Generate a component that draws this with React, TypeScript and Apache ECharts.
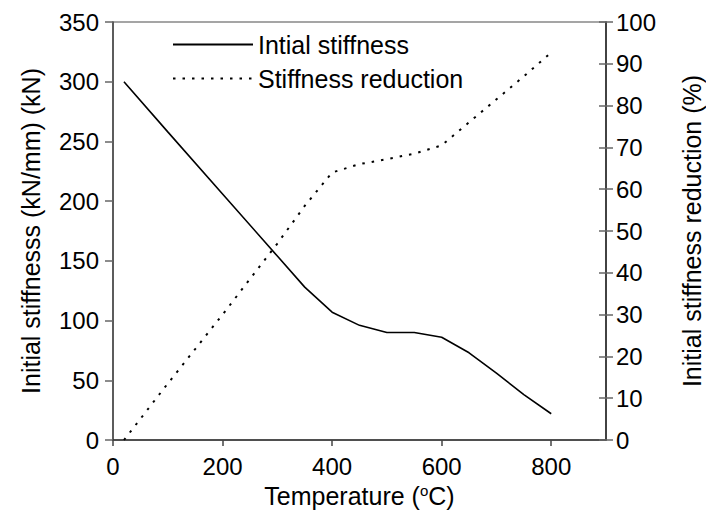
import React, { useEffect, useRef } from "react";
import * as echarts from "echarts";

const temperatures = [20, 100, 200, 300, 350, 400, 450, 500, 550, 600, 650, 700, 750, 800];
const initialStiffness = [300, 258, 206, 154, 128, 107, 96, 90, 90, 86, 73, 56, 38, 22];
const stiffnessReduction = [0, 13.5, 30, 47, 56, 64, 66, 67.2, 68.5, 70.5, 76, 81.5, 87, 92.7];
const xTicks = [0, 200, 400, 600, 800];

const FONT = "'Liberation Sans', Arial, sans-serif";

export default function App() {
  const ref = useRef<HTMLDivElement>(null);
  useEffect(() => {
    const chart = echarts.init(ref.current!, null, { renderer: "svg" });
    const solid = temperatures.map((t, i) => [t, initialStiffness[i]]);
    const dotted = temperatures.map((t, i) => [t, stiffnessReduction[i]]);
    chart.setOption({
      animation: false,
      textStyle: { fontFamily: FONT, color: "#000" },
      grid: {
        left: 113,
        right: 100,
        top: 22,
        bottom: 81,
        containLabel: false,
        outerBoundsMode: "none",
        show: true,
        borderColor: "#888",
        borderWidth: 1.5,
        backgroundColor: "transparent",
      },
      legend: {
        orient: "vertical",
        left: 167,
        top: 27,
        itemWidth: 80,
        itemHeight: 16,
        itemGap: 9,
        itemStyle: { opacity: 0 },
        textStyle: { fontSize: 25, fontFamily: FONT, color: "#000" },
        data: ["Intial stiffness", "Stiffness reduction"],
      },
      xAxis: {
        type: "value",
        min: 0,
        max: 900,
        interval: 200,
        name: "Temperature ({sup|o}C)",
        nameLocation: "middle",
        nameGap: 42,
        nameTextStyle: {
          fontSize: 25,
          fontFamily: FONT,
          color: "#000",
          rich: {
            sup: { fontSize: 15, verticalAlign: "top", padding: [0, 0, 12, 0], fontFamily: FONT, color: "#000" },
          },
        },
        axisLine: { show: true, lineStyle: { color: "#333", width: 1.5 } },
        axisTick: { show: true, length: 6, customValues: xTicks, lineStyle: { color: "#444", width: 1.5 } },
        axisLabel: { fontSize: 24, margin: 14, color: "#000", fontFamily: FONT, customValues: xTicks },
        splitLine: { show: false },
      },
      yAxis: [
        {
          type: "value",
          min: 0,
          max: 350,
          interval: 50,
          position: "left",
          name: "Initial stiffnesss (kN/mm) (kN)",
          nameLocation: "middle",
          nameRotate: 90,
          nameGap: 70,
          nameTextStyle: { fontSize: 25, fontFamily: FONT, color: "#000" },
          axisLine: { show: true, lineStyle: { color: "#444", width: 1.5 } },
          axisTick: { show: true, length: 8, lineStyle: { color: "#666", width: 1.5 } },
          axisLabel: { fontSize: 24, margin: 14, color: "#000", fontFamily: FONT },
          splitLine: { show: false },
        },
        {
          type: "value",
          min: 0,
          max: 100,
          interval: 10,
          position: "right",
          name: "Initial stiffness reduction (%)",
          nameLocation: "middle",
          nameRotate: 90,
          nameGap: 73,
          nameTextStyle: { fontSize: 25, fontFamily: FONT, color: "#000" },
          axisLine: { show: true, lineStyle: { color: "#222", width: 1.5 } },
          axisTick: { show: true, length: 7, lineStyle: { color: "#666", width: 1.5 } },
          axisLabel: { fontSize: 24, margin: 10, color: "#000", fontFamily: FONT },
          splitLine: { show: false },
        },
        {
          type: "value",
          min: 0,
          max: 100,
          interval: 10,
          position: "right",
          axisLine: { show: false },
          axisTick: { show: true, inside: true, length: 7, lineStyle: { color: "#666", width: 1.5 } },
          axisLabel: { show: false },
          splitLine: { show: false },
        },
      ],
      series: [
        {
          name: "Intial stiffness",
          type: "line",
          yAxisIndex: 0,
          data: solid,
          symbol: "none",
          showSymbol: false,
          lineStyle: { color: "#000", width: 1.6, type: "solid" },
          itemStyle: { color: "#000" },
        },
        {
          name: "Stiffness reduction",
          type: "line",
          yAxisIndex: 1,
          data: dotted,
          symbol: "none",
          showSymbol: false,
          lineStyle: { color: "#000", width: 2, type: [2.5, 7] },
          itemStyle: { color: "#000" },
        },
      ],
    });
    return () => chart.dispose();
  }, []);
  return <div ref={ref} style={{ width: 706, height: 521, position: "absolute", left: 0, top: 0 }} />;
}
